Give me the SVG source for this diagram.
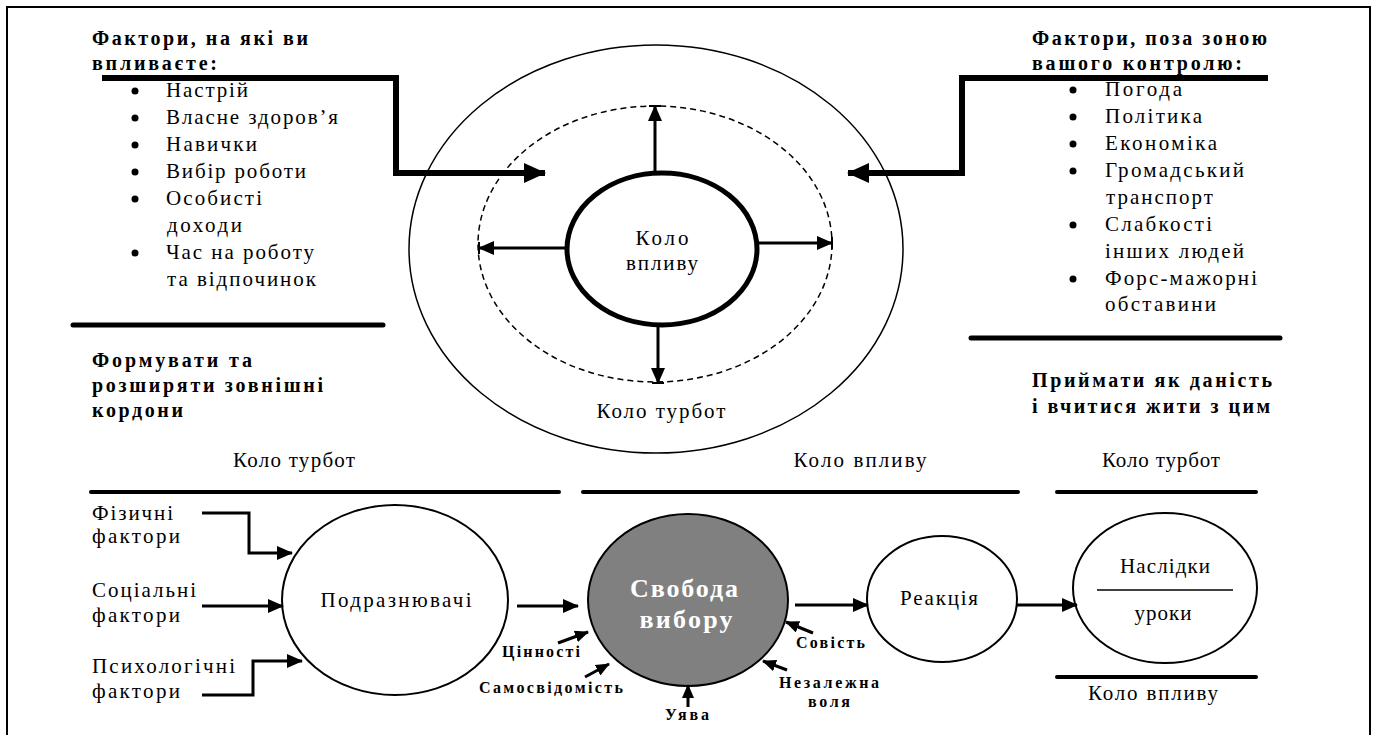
<svg xmlns="http://www.w3.org/2000/svg" width="1375" height="735" viewBox="0 0 1375 735">
<style>
text{font-family:"Times New Roman","Liberation Serif","DejaVu Serif","Noto Serif",serif;fill:#000}
.t{font-size:21px}
.h{font-size:20px;font-weight:bold}
.s{font-size:16px;font-weight:bold}
.c{text-anchor:middle}
.ln{stroke:#000;fill:none}
.thick{stroke:#000;stroke-width:6;fill:none;stroke-linejoin:miter}
.bar{stroke:#000;stroke-width:5;stroke-linecap:round}
.bar2{stroke:#000;stroke-width:4;stroke-linecap:round}
.arr{stroke:#000;stroke-width:3;fill:none}
</style>
<defs>
<marker id="ah" markerUnits="userSpaceOnUse" markerWidth="16" markerHeight="14" viewBox="0 0 16 14" refX="15" refY="7" orient="auto"><path d="M0,0 L16,7 L0,14 z" fill="#000"/></marker>
<marker id="ahs" markerUnits="userSpaceOnUse" markerWidth="14" markerHeight="12" viewBox="0 0 14 12" refX="13" refY="6" orient="auto"><path d="M0,0 L14,6 L0,12 z" fill="#000"/></marker>
<marker id="ahb" markerUnits="userSpaceOnUse" markerWidth="22" markerHeight="20" viewBox="0 0 22 20" refX="21" refY="10" orient="auto"><path d="M0,0 L22,10 L0,20 z" fill="#000"/></marker>
</defs>
<rect width="1375" height="735" fill="#fff"/>
<path d="M7,735 V7 H1370 V735" class="ln" stroke-width="2"/>

<g id="left-factors">
<text class="h" x="92" y="45" textLength="216" lengthAdjust="spacing">Фактори, на які ви</text>
<text class="h" x="92" y="70" textLength="125" lengthAdjust="spacing">впливаєте:</text>
<g fill="#000"><circle cx="135" cy="91" r="3.5"/><circle cx="135" cy="118" r="3.5"/><circle cx="135" cy="145" r="3.5"/><circle cx="135" cy="172" r="3.5"/><circle cx="135" cy="199" r="3.5"/><circle cx="135" cy="253" r="3.5"/></g>
<text class="t" x="166" y="97" textLength="82" lengthAdjust="spacing">Настрій</text>
<text class="t" x="166" y="124" textLength="172" lengthAdjust="spacing">Власне здоров’я</text>
<text class="t" x="166" y="151" textLength="91" lengthAdjust="spacing">Навички</text>
<text class="t" x="166" y="178" textLength="140" lengthAdjust="spacing">Вибір роботи</text>
<text class="t" x="166" y="205" textLength="96" lengthAdjust="spacing">Особисті</text>
<text class="t" x="167" y="232" textLength="75" lengthAdjust="spacing">доходи</text>
<text class="t" x="166" y="259" textLength="148" lengthAdjust="spacing">Час на роботу</text>
<text class="t" x="167" y="286" textLength="149" lengthAdjust="spacing">та відпочинок</text>
</g>

<g id="right-factors">
<text class="h" x="1032" y="45" textLength="235" lengthAdjust="spacing">Фактори, поза зоною</text>
<text class="h" x="1032" y="70" textLength="210" lengthAdjust="spacing">вашого контролю:</text>
<g fill="#000"><circle cx="1073" cy="90" r="3.5"/><circle cx="1073" cy="117" r="3.5"/><circle cx="1073" cy="144" r="3.5"/><circle cx="1073" cy="171" r="3.5"/><circle cx="1073" cy="225" r="3.5"/><circle cx="1073" cy="279" r="3.5"/></g>
<text class="t" x="1105" y="96" textLength="77" lengthAdjust="spacing">Погода</text>
<text class="t" x="1105" y="123" textLength="97" lengthAdjust="spacing">Політика</text>
<text class="t" x="1105" y="150" textLength="112" lengthAdjust="spacing">Економіка</text>
<text class="t" x="1105" y="177" textLength="139" lengthAdjust="spacing">Громадський</text>
<text class="t" x="1106" y="204" textLength="107" lengthAdjust="spacing">транспорт</text>
<text class="t" x="1105" y="231" textLength="107" lengthAdjust="spacing">Слабкості</text>
<text class="t" x="1105" y="258" textLength="139" lengthAdjust="spacing">інших людей</text>
<text class="t" x="1105" y="285" textLength="152" lengthAdjust="spacing">Форс-мажорні</text>
<text class="t" x="1105" y="311" textLength="111" lengthAdjust="spacing">обставини</text>
</g>

<g id="circles-top">
<ellipse cx="656" cy="249" rx="247" ry="204" class="ln" stroke-width="1.5"/>
<ellipse cx="655" cy="244" rx="177" ry="138" class="ln" stroke-width="1.5" stroke-dasharray="6,4"/>
<ellipse cx="662" cy="249" rx="95" ry="76" class="ln" stroke-width="5"/>
<text class="t c" x="662" y="245" textLength="53" lengthAdjust="spacing">Коло</text>
<text class="t c" x="662" y="270" textLength="72" lengthAdjust="spacing">впливу</text>
<text class="t c" x="661" y="418" textLength="129" lengthAdjust="spacing">Коло турбот</text>
</g>

<g id="left-block">
<line x1="73" y1="325" x2="383" y2="325" class="bar"/>
<text class="h" x="92" y="367" textLength="160" lengthAdjust="spacing">Формувати та</text>
<text class="h" x="92" y="392" textLength="231" lengthAdjust="spacing">розширяти зовнішні</text>
<text class="h" x="92" y="417" textLength="91" lengthAdjust="spacing">кордони</text>
</g>

<g id="right-block">
<line x1="971" y1="338" x2="1280" y2="338" class="bar"/>
<text class="h" x="1032" y="387" textLength="240" lengthAdjust="spacing">Приймати як даність</text>
<text class="h" x="1032" y="413" textLength="238" lengthAdjust="spacing">і вчитися жити з цим</text>
</g>

<g id="bottom-headers">
<text class="t c" x="294" y="467" textLength="122" lengthAdjust="spacing">Коло турбот</text>
<text class="t c" x="860" y="467" textLength="133" lengthAdjust="spacing">Коло впливу</text>
<text class="t c" x="1161" y="467" textLength="118" lengthAdjust="spacing">Коло турбот</text>
<line x1="91" y1="492" x2="559" y2="492" class="bar2"/>
<line x1="583" y1="492" x2="1018" y2="492" class="bar2"/>
<line x1="1057" y1="492" x2="1256" y2="492" class="bar2"/>
<line x1="1057" y1="677" x2="1256" y2="677" class="bar2"/>
<text class="t c" x="1153" y="700" textLength="130" lengthAdjust="spacing">Коло впливу</text>
</g>

<g id="factors-bottom">
<text class="t" x="92" y="520" textLength="81" lengthAdjust="spacing">Фізичні</text>
<text class="t" x="92" y="543" textLength="88" lengthAdjust="spacing">фактори</text>
<text class="t" x="92" y="597" textLength="104" lengthAdjust="spacing">Соціальні</text>
<text class="t" x="92" y="622" textLength="88" lengthAdjust="spacing">фактори</text>
<text class="t" x="92" y="673" textLength="143" lengthAdjust="spacing">Психологічні</text>
<text class="t" x="92" y="698" textLength="88" lengthAdjust="spacing">фактори</text>
</g>

<g id="podraznyuvachi">
<ellipse cx="395" cy="600" rx="113" ry="95" class="ln" stroke-width="2"/>
<text class="t c" x="396" y="607" textLength="151" lengthAdjust="spacing">Подразнювачі</text>
</g>

<g id="svoboda">
<ellipse cx="688" cy="600" rx="100" ry="86" fill="#808080" stroke="#000" stroke-width="2"/>
<text class="c" x="684" y="597" font-size="26" font-weight="bold" style="fill:#fff" textLength="108" lengthAdjust="spacing">Свобода</text>
<text class="c" x="686" y="628" font-size="26" font-weight="bold" style="fill:#fff" textLength="93" lengthAdjust="spacing">вибору</text>
</g>

<g id="reaktsiya">
<ellipse cx="942" cy="599" rx="75" ry="63" class="ln" stroke-width="2"/>
<text class="t c" x="939" y="605" textLength="78" lengthAdjust="spacing">Реакція</text>
</g>

<g id="naslidky">
<ellipse cx="1165" cy="588" rx="92" ry="75" class="ln" stroke-width="2"/>
<text class="t c" x="1165" y="573" textLength="90" lengthAdjust="spacing">Наслідки</text>
<line x1="1097" y1="590" x2="1233" y2="590" class="ln" stroke-width="1.5"/>
<text class="t c" x="1163" y="620" textLength="57" lengthAdjust="spacing">уроки</text>
</g>

<g id="labels-small">
<text class="s" x="502" y="657" textLength="78" lengthAdjust="spacing">Цінності</text>
<text class="s" x="479" y="693" textLength="144" lengthAdjust="spacing">Самосвідомість</text>
<text class="s c" x="687" y="720" textLength="44" lengthAdjust="spacing">Уява</text>
<text class="s" x="796" y="648" textLength="69" lengthAdjust="spacing">Совість</text>
<text class="s" x="779" y="688" textLength="100" lengthAdjust="spacing">Незалежна</text>
<text class="s c" x="829" y="707" textLength="42" lengthAdjust="spacing">воля</text>
</g>

<g id="connectors">
<path d="M102,78 H396 V173 H545" class="thick" marker-end="url(#ahb)"/>
<path d="M1268,78 H962 V173 H848" class="thick" marker-end="url(#ahb)"/>
<line x1="655" y1="173" x2="655" y2="106" class="arr" marker-end="url(#ah)"/>
<line x1="649" y1="106" x2="661" y2="106" class="ln" stroke-width="2"/>
<line x1="658" y1="325" x2="658" y2="383" class="arr" marker-end="url(#ah)"/>
<line x1="652" y1="383" x2="664" y2="383" class="ln" stroke-width="2"/>
<line x1="567" y1="248" x2="479" y2="248" class="arr" marker-end="url(#ah)"/>
<line x1="479" y1="242" x2="479" y2="254" class="ln" stroke-width="2"/>
<line x1="757" y1="243" x2="832" y2="243" class="arr" marker-end="url(#ah)"/>
<line x1="832" y1="237" x2="832" y2="249" class="ln" stroke-width="2"/>
<path d="M202,513 H249 V553 H292" class="arr" marker-end="url(#ah)"/>
<line x1="202" y1="606" x2="283" y2="606" class="arr" marker-end="url(#ah)"/>
<path d="M202,695 H253 V661 H302" class="arr" marker-end="url(#ah)"/>
<line x1="517" y1="606" x2="578" y2="606" class="arr" marker-end="url(#ah)"/>
<line x1="795" y1="605" x2="868" y2="605" class="arr" marker-end="url(#ah)"/>
<line x1="1017" y1="605" x2="1077" y2="605" class="arr" marker-end="url(#ah)"/>
<line x1="558" y1="643" x2="588" y2="632" class="arr" marker-end="url(#ahs)"/>
<line x1="585" y1="677" x2="609" y2="664" class="arr" marker-end="url(#ahs)"/>
<line x1="688" y1="707" x2="688" y2="685" class="arr" marker-end="url(#ahs)"/>
<line x1="813" y1="633" x2="786" y2="622" class="arr" marker-end="url(#ahs)"/>
<line x1="787" y1="670" x2="763" y2="661" class="arr" marker-end="url(#ahs)"/>
</g>
</svg>
